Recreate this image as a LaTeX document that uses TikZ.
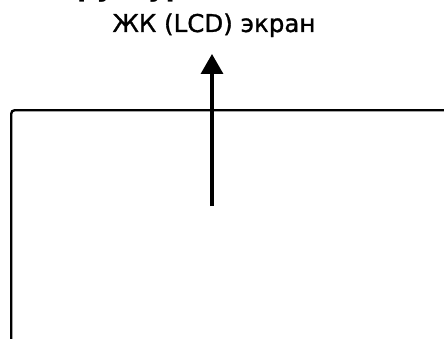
\documentclass[tikz,border=0pt]{standalone}
\usepackage{fontspec}
\setmainfont{DejaVu Sans}
\newfontfamily\labelfont[FakeBold=1.2]{DejaVu Sans}
\usetikzlibrary{arrows.meta}
\tikzset{
  labeltext/.style={inner sep=0pt, font=\labelfont\fontsize{24.5pt}{28pt}\selectfont},
  titletext/.style={inner sep=0pt, font=\fontsize{27pt}{30pt}\selectfont\bfseries},
  screenbox/.style={draw, line width=2.4pt, rounded corners=3.5pt, inner sep=0pt},
  uparrow/.style={line width=3.4pt, -{Triangle[width=22pt,length=20pt]}}
}
\begin{document}
\begin{tikzpicture}[x=1pt,y=1pt]
\useasboundingbox (0,0) rectangle (444,338);
\clip (0,0) rectangle (444,338);
\fill[white] (0,0) rectangle (444,338);
\node[titletext, anchor=base east] (title) at (437,341.8) {Структура дисплея (LCD)};
\node[labeltext, anchor=base] (lbl) at (214,306) {ЖК (LCD) экран};
\node[screenbox, anchor=north west, minimum width=500pt, minimum height=300pt] (screen) at (10,229) {};
\coordinate (start) at (212,132);
\draw[uparrow] (start) -- (start |- 0,284);
\end{tikzpicture}
\end{document}
